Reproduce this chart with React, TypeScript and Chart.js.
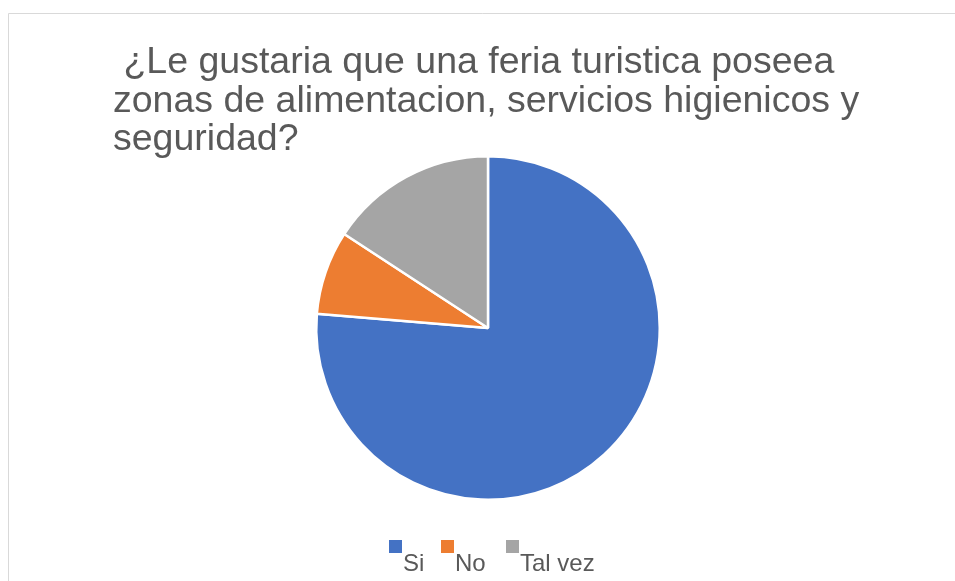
import React, { useEffect, useRef } from "react";
import { Chart, registerables } from "chart.js";

Chart.register(...registerables);

const categories = ["Si", "No", "Tal vez"];
const values = [29, 3, 6];
const colors = ["#4472C4", "#ED7D31", "#A5A5A5"];
const titleLines = [
  " ¿Le gustaria que una feria turistica poseea",
  "zonas de alimentacion, servicios higienicos y",
  "seguridad?",
];

const decorPlugin = {
  id: "decor",
  beforeDraw(chart: any) {
    const ctx = chart.ctx;
    ctx.save();
    ctx.fillStyle = "#ffffff";
    ctx.fillRect(0, 0, chart.width, chart.height);
    ctx.strokeStyle = "#d9d9d9";
    ctx.lineWidth = 1;
    ctx.beginPath();
    ctx.moveTo(8.5, chart.height + 2);
    ctx.lineTo(8.5, 13.5);
    ctx.lineTo(chart.width + 2, 13.5);
    ctx.stroke();
    ctx.restore();
  },
  afterDraw(chart: any) {
    const ctx = chart.ctx;
    ctx.save();
    ctx.fillStyle = "#595959";
    ctx.textBaseline = "alphabetic";
    ctx.textAlign = "left";
    ctx.font = '37.5px "Liberation Sans", Arial, sans-serif';
    const baselines = [73, 111.5, 150];
    titleLines.forEach((t, i) => ctx.fillText(t, 113, baselines[i]));

    ctx.font = '24px "Liberation Sans", Arial, sans-serif';
    const boxX = [389, 441, 506];
    categories.forEach((c, i) => {
      ctx.fillStyle = colors[i];
      ctx.fillRect(boxX[i], 540, 13, 13);
      ctx.fillStyle = "#595959";
      ctx.fillText(c, boxX[i] + 14, 571);
    });
    ctx.restore();
  },
};

export default function App() {
  const ref = useRef<HTMLCanvasElement>(null);
  useEffect(() => {
    document.body.style.margin = "0";
    const chart = new Chart(ref.current as HTMLCanvasElement, {
      type: "pie",
      data: {
        labels: categories,
        datasets: [
          {
            data: values,
            backgroundColor: colors,
            borderColor: "#ffffff",
            borderWidth: 2.5,
          },
        ],
      },
      options: {
        animation: false,
        responsive: false,
        layout: { padding: { left: 315, right: 294, top: 155, bottom: 80 } },
        plugins: {
          legend: { display: false },
          title: { display: false },
          tooltip: { enabled: false },
        },
      },
      plugins: [decorPlugin],
    });
    return () => chart.destroy();
  }, []);
  return (
    <div style={{ position: "absolute", left: 0, top: 0, width: 955, height: 581 }}>
      <canvas ref={ref} width={955} height={581} style={{ width: 955, height: 581 }} />
    </div>
  );
}
